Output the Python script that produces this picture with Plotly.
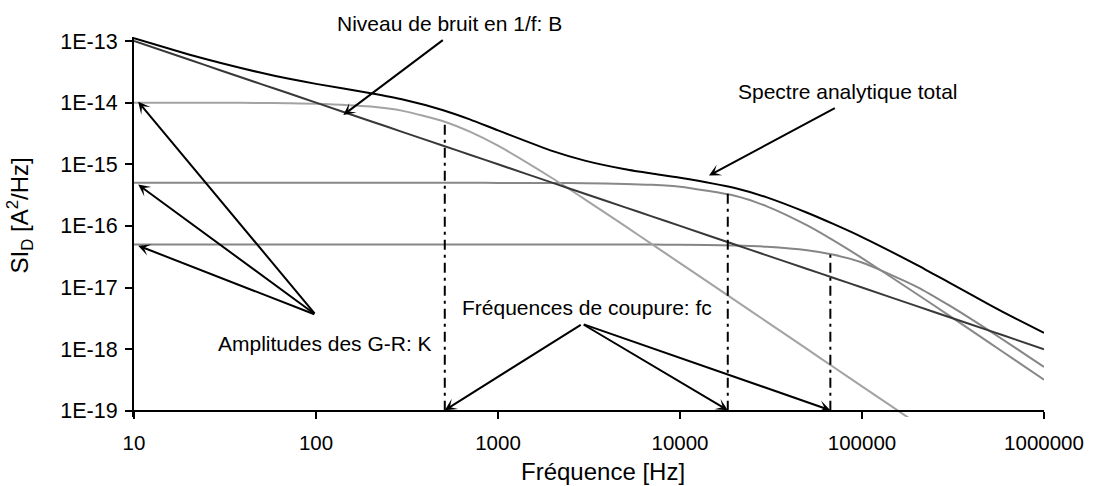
import math
import plotly.graph_objects as go

# Frequency grid (Hz) at which the spectra are sampled
FREQ = [10, 20, 30, 50, 70, 100, 200, 300, 500, 700,
        1000, 2000, 3000, 5000, 7000, 10000, 20000, 30000, 50000, 70000,
        100000, 200000, 300000, 500000, 700000, 1000000]

# 1/f noise level B/f
NOISE_1F = [1.0e-13, 5.0e-14, 3.33e-14, 2.0e-14, 1.43e-14, 1.0e-14, 5.0e-15, 3.33e-15, 2.0e-15, 1.43e-15,
            1.0e-15, 5.0e-16, 3.33e-16, 2.0e-16, 1.43e-16, 1.0e-16, 5.0e-17, 3.33e-17, 2.0e-17, 1.43e-17,
            1.0e-17, 5.0e-18, 3.33e-18, 2.0e-18, 1.43e-18, 1.0e-18]

# Generation-recombination components
GR_LOW = [1.0e-14, 9.98e-15, 9.96e-15, 9.90e-15, 9.81e-15, 9.62e-15, 8.62e-15, 7.35e-15, 5.0e-15, 3.38e-15,
          2.0e-15, 5.88e-16, 2.70e-16, 9.9e-17, 5.08e-17, 2.49e-17, 6.25e-18, 2.78e-18, 1.0e-18, 5.1e-19,
          2.5e-19, 6.25e-20, 2.78e-20, 1.0e-20, 5.1e-21, 2.5e-21]
GR_MID = [5.0e-16, 5.0e-16, 5.0e-16, 5.0e-16, 5.0e-16, 5.0e-16, 5.0e-16, 5.0e-16, 5.0e-16, 5.0e-16,
          4.99e-16, 4.97e-16, 4.93e-16, 4.81e-16, 4.64e-16, 4.32e-16, 3.08e-16, 2.08e-16, 1.02e-16, 5.78e-17,
          3.01e-17, 7.87e-18, 3.53e-18, 1.28e-18, 6.52e-19, 3.2e-19]
GR_HIGH = [5.0e-17, 5.0e-17, 5.0e-17, 5.0e-17, 5.0e-17, 5.0e-17, 5.0e-17, 5.0e-17, 5.0e-17, 5.0e-17,
           5.0e-17, 5.0e-17, 5.0e-17, 5.0e-17, 4.98e-17, 4.95e-17, 4.82e-17, 4.60e-17, 4.03e-17, 3.40e-17,
           2.55e-17, 1.03e-17, 5.18e-18, 2.0e-18, 1.04e-18, 5.15e-19]

# Total analytic spectrum
TOTAL = [1.106e-13, 6.05e-14, 4.385e-14, 3.045e-14, 2.464e-14, 2.017e-14, 1.417e-14, 1.124e-14, 7.55e-15, 5.36e-15,
         3.55e-15, 1.635e-15, 1.147e-15, 8.30e-16, 7.07e-16, 6.06e-16, 4.12e-16, 2.90e-16, 1.633e-16, 1.066e-16,
         6.59e-17, 2.33e-17, 1.21e-17, 5.29e-18, 3.13e-18, 1.84e-18]

# Cut-off frequencies and the level reached on each G-R curve
FC = [510, 18300, 67000]
FC_LEVEL = [4.9e-15, 3.4e-16, 3.5e-17]

X_TICKS = [10, 100, 1000, 10000, 100000, 1000000]
X_LABELS = ["10", "100", "1000", "10000", "100000", "1000000"]
Y_TICKS = [1e-19, 1e-18, 1e-17, 1e-16, 1e-15, 1e-14, 1e-13]
Y_LABELS = ["1E-19", "1E-18", "1E-17", "1E-16", "1E-15", "1E-14", "1E-13"]

FONT = "Liberation Sans, Arial, sans-serif"

fig = go.Figure()

series = [
    (GR_HIGH, "#858585"),
    (GR_MID, "#888888"),
    (GR_LOW, "#a3a3a3"),
    (NOISE_1F, "#383838"),
    (TOTAL, "#000000"),
]
for values, color in series:
    fig.add_trace(go.Scatter(x=FREQ, y=values, mode="lines",
                             line=dict(color=color, width=2, shape="spline", smoothing=0.6),
                             hoverinfo="skip"))

for fc, level in zip(FC, FC_LEVEL):
    fig.add_trace(go.Scatter(x=[fc, fc], y=[Y_TICKS[0], level], mode="lines",
                             line=dict(color="black", width=2, dash="10px,5px,3px,5px"),
                             hoverinfo="skip"))

annotations = []

def arrow(hx, hy, tx, ty):
    # head and tail given in log10 units of the two axes
    annotations.append(dict(x=hx, y=hy, ax=tx, ay=ty, xref="x", yref="y", axref="x", ayref="y",
                            text="", showarrow=True, arrowhead=3, arrowsize=1, arrowwidth=2,
                            arrowcolor="black", standoff=0, startstandoff=0))

arrow(2.150, -14.20, 2.705, -12.968)          # 1/f level
arrow(4.159, -15.184, 4.859, -14.075)         # total spectrum
for hy in (-13.984, -15.33, -16.32):          # G-R amplitudes
    arrow(1.023, hy, 1.999, -17.443)
for fc in FC:                                 # cut-off frequencies
    arrow(math.log10(fc), -18.99, 3.463, -17.589)

def label(text, xp, yp, size=21, angle=0, yanchor="middle"):
    annotations.append(dict(x=xp, y=yp, xref="paper", yref="paper", text=text, showarrow=False,
                            xanchor="center", yanchor=yanchor, textangle=angle, borderpad=0,
                            font=dict(size=size, family=FONT, color="black")))

label("Niveau de bruit en 1/f: B", 0.3462, 1.036)
label("Spectre analytique total", 0.7841, 0.856)
label("Amplitudes des G-R: K", 0.2094, 0.1947)
label("Fréquences de coupure: fc", 0.4978, 0.2887)
label("Fréquence [Hz]", 0.5155, -0.1805, size=24, yanchor="bottom")
label("SI<sub>D</sub> [A<sup>2</sup>/Hz]", -0.125, 0.531, size=24, angle=-90)

fig.update_layout(
    width=1096, height=486,
    margin=dict(l=134, r=45, t=37, b=69),
    paper_bgcolor="white", plot_bgcolor="white",
    showlegend=False,
    font=dict(family=FONT, color="black", size=20),
    annotations=annotations,
    xaxis=dict(type="log", range=[1, 6], showgrid=False, zeroline=False,
               showline=True, linecolor="black", linewidth=2,
               ticks="outside", ticklen=7, tickwidth=2, tickcolor="black",
               tickvals=X_TICKS, ticktext=X_LABELS, tickfont=dict(size=20.5),
               ticklabelstandoff=7, ticklabeloverflow="allow",
               anchor="free", position=0.1 / 6.165),
    yaxis=dict(type="log", range=[-19.1, -12.935], showgrid=False, zeroline=False,
               showline=True, linecolor="black", linewidth=2,
               ticks="outside", ticklen=7, tickwidth=2, tickcolor="black",
               tickvals=Y_TICKS, ticktext=Y_LABELS, tickfont=dict(size=21.5),
               ticklabelstandoff=3),
)

fig.write_html("out.html")
